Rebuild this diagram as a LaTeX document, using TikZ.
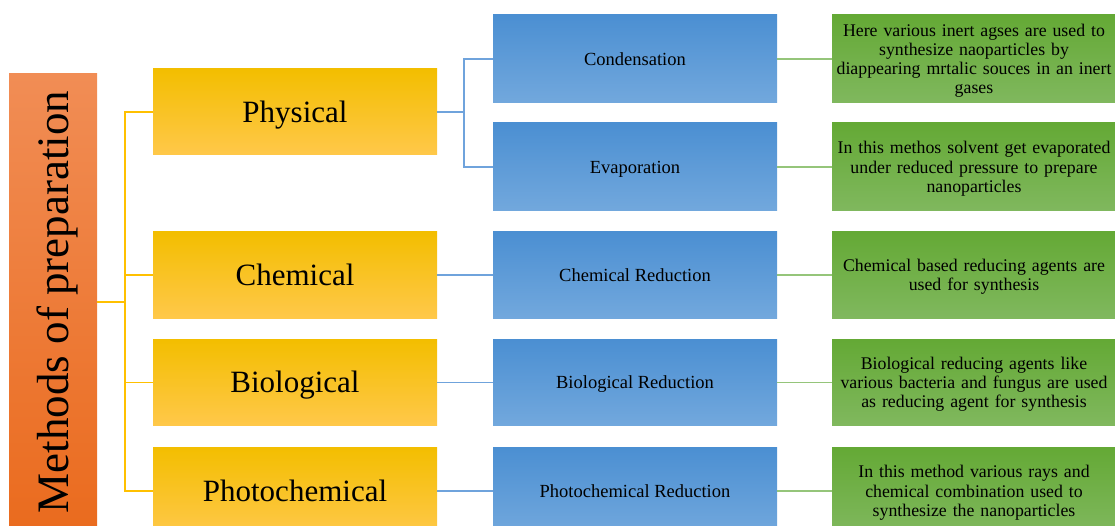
\documentclass[tikz,border=0pt]{standalone}
\usepackage{fontspec}
\setmainfont{Liberation Serif}
\definecolor{orT}{HTML}{F18D55}
\definecolor{orB}{HTML}{EA6B1E}
\definecolor{yeT}{HTML}{F3BE00}
\definecolor{yeM}{HTML}{FEC416}
\definecolor{yeB}{HTML}{FFC84A}
\definecolor{blT}{HTML}{4B8FD2}
\definecolor{blM}{HTML}{5E9DDA}
\definecolor{blB}{HTML}{72A8DD}
\definecolor{grT}{HTML}{64A935}
\definecolor{grM}{HTML}{70B048}
\definecolor{grB}{HTML}{80B85E}
\definecolor{ylin}{HTML}{FFC000}
\definecolor{blin}{HTML}{6FA3DC}
\definecolor{glin}{HTML}{95C57A}
\newcommand{\ostrut}{\rule[-0.216em]{0pt}{1.107em}}
\newcommand{\smfnt}{\fontsize{18.5}{19.3}\selectfont\setlength{\lineskiplimit}{-100pt}}
\newcommand{\grfnt}{\fontsize{17.8}{19.3}\selectfont\setlength{\lineskiplimit}{-100pt}}
\newcommand{\bgfnt}{\fontsize{31}{34}\selectfont}
\newcommand{\rtfnt}{\fontsize{45}{50}\selectfont}
\tikzset{
  basebox/.style={minimum height=88pt, inner sep=0pt, align=center,
    execute at begin node=\ostrut, execute at end node=\ostrut},
  orangebox/.style={minimum width=88pt, minimum height=456pt, inner sep=0pt,
    top color=orT, bottom color=orB},
  yellowbox/.style={basebox, minimum width=284pt, minimum height=86pt,
    top color=yeT, middle color=yeM, bottom color=yeB, font=\bgfnt},
  bluebox/.style={basebox, minimum width=284pt,
    top color=blT, middle color=blM, bottom color=blB, font=\smfnt},
  greenbox/.style={basebox, minimum width=284pt, text width=282pt,
    top color=grT, middle color=grM, bottom color=grB, font=\grfnt},
  yconn/.style={draw=ylin, line width=1.3pt},
  bconn/.style={draw=blin, line width=1.3pt},
  gconn/.style={draw=glin, line width=1.3pt},
}
\begin{document}
\begin{tikzpicture}[x=1pt,y=-1pt]
\useasboundingbox (0,0) rectangle (1115,526);
\clip (0,0) rectangle (1115,526);
% root
\node[orangebox] (root) at (53,302) {};
\node[rotate=90, inner sep=0pt, font=\rtfnt] (roottext) at (57,302) {Methods of preparation};
% level 1
\node[yellowbox] (phys) at (295,112) {Physical};
\node[yellowbox] (chem) at (295,275) {Chemical};
\node[yellowbox] (bio) at (295,382.5) {Biological};
\node[yellowbox, minimum height=88pt] (photo) at (295,491) {Photochemical};
% level 2
\node[bluebox] (cond) at (635,59) {Condensation};
\node[bluebox] (evap) at (635,167) {Evaporation};
\node[bluebox, minimum height=86pt] (chemred) at (635,275) {Chemical Reduction};
\node[bluebox, minimum height=86pt] (biored) at (635,382.5) {Biological Reduction};
\node[bluebox] (photored) at (635,491) {Photochemical Reduction};
% level 3
\node[greenbox] (g1) at (974,59) {Here various inert agses are used to\\synthesize naoparticles by\\diappearing mrtalic souces in an inert\\gases};
\node[greenbox] (g2) at (974,167) {In this methos solvent get evaporated\\under reduced pressure to prepare\\nanoparticles};
\node[greenbox, minimum height=86pt] (g3) at (974,275) {Chemical based reducing agents are\\used for synthesis};
\node[greenbox, minimum height=86pt] (g4) at (974,382.5) {Biological reducing agents like\\various bacteria and fungus are used\\as reducing agent for synthesis};
\node[greenbox] (g5) at (974,491) {In this method various rays and\\chemical combination used to\\synthesize the nanoparticles};
% connectors root -> level 1
\coordinate (j) at (125,302);
\draw[yconn] (root.east) -- (j);
\draw[yconn] (j) |- (phys.west);
\draw[yconn] (j) |- (chem.west);
\draw[yconn] (j) |- (bio.west);
\draw[yconn] (j) |- (photo.west);
% level 1 -> level 2
\coordinate (k) at (464,112);
\draw[bconn] (phys.east) -- (k);
\draw[bconn] (k) |- (cond.west);
\draw[bconn] (k) |- (evap.west);
\draw[bconn] (chem.east) -- (chemred.west);
\draw[bconn] (bio.east) -- (biored.west);
\draw[bconn] (photo.east) -- (photored.west);
% level 2 -> level 3
\draw[gconn] (cond.east) -- (g1.west);
\draw[gconn] (evap.east) -- (g2.west);
\draw[gconn] (chemred.east) -- (g3.west);
\draw[gconn] (biored.east) -- (g4.west);
\draw[gconn] (photored.east) -- (g5.west);
\end{tikzpicture}
\end{document}
